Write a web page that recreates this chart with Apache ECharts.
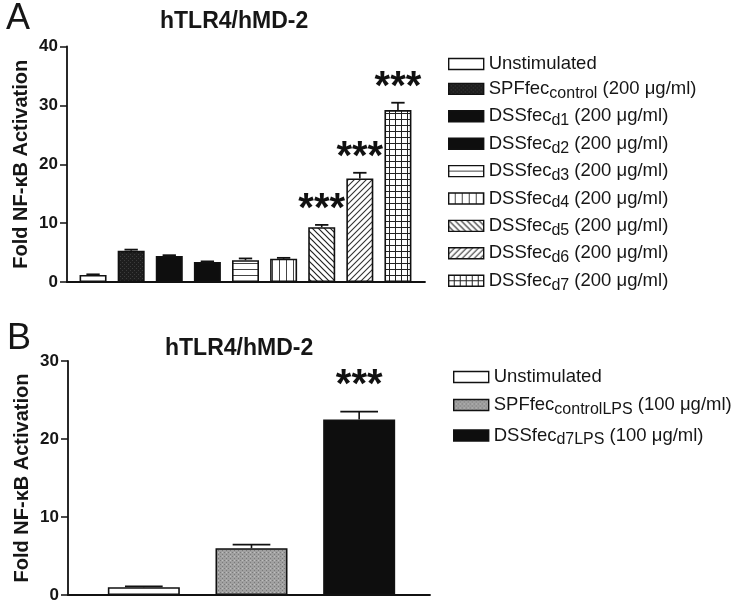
<!DOCTYPE html>
<html><head><meta charset="utf-8">
<script src="https://cdn.jsdelivr.net/npm/echarts@6/dist/echarts.min.js"></script>
<style>html,body{margin:0;padding:0;background:#fff}#c{width:741px;height:604px}</style>
</head><body><div id="c"></div>
<script>
// ---------- data ----------
const seriesNamesA = ['Unstimulated','SPFfec_control','DSSfec_d1','DSSfec_d2','DSSfec_d3','DSSfec_d4','DSSfec_d5','DSSfec_d6','DSSfec_d7'];
const legendBaseA  = ['Unstimulated','SPFfec','DSSfec','DSSfec','DSSfec','DSSfec','DSSfec','DSSfec','DSSfec'];
const legendSubA   = ['','control','d1','d2','d3','d4','d5','d6','d7'];
const legendDoseA  = ['',' (200 μg/ml)',' (200 μg/ml)',' (200 μg/ml)',' (200 μg/ml)',' (200 μg/ml)',' (200 μg/ml)',' (200 μg/ml)',' (200 μg/ml)'];
const valuesA = [1.2, 5.3, 4.4, 3.4, 3.7, 3.95, 9.3, 17.6, 29.2];
const errorsA = [0.1, 0.2, 0.15, 0.1, 0.3, 0.15, 0.4, 0.95, 1.25];
const sigA    = ['','','','','','','***','***','***'];
const yTicksA = [0, 10, 20, 30, 40];

const seriesNamesB = ['Unstimulated (B)','SPFfec_controlLPS','DSSfec_d7LPS'];
const legendBaseB  = ['Unstimulated','SPFfec','DSSfec'];
const legendSubB   = ['','controlLPS','d7LPS'];
const legendDoseB  = ['',' (100 μg/ml)',' (100 μg/ml)'];
const valuesB = [1.0, 6.0, 22.5];
const errorsB = [0.1, 0.45, 1.0];
const sigB    = ['','','***'];
const yTicksB = [0, 10, 20, 30];

const panelTitle = 'hTLR4/hMD-2';
const yName = 'Fold NF-κB Activation';

// ---------- patterns ----------
function tile(s, draw){const c=document.createElement('canvas');c.width=s;c.height=s;const g=c.getContext('2d');draw(g,s);return {image:c,repeat:'repeat'};}
const fills = {
  white: '#ffffff',
  dark: tile(4,(g,s)=>{g.fillStyle='#1e1e1e';g.fillRect(0,0,s,s);g.fillStyle='#3c3c3c';g.fillRect(0,0,1,1);g.fillRect(2,2,1,1);}),
  black: '#0e0e0e',
  hline: tile(6,(g,s)=>{g.fillStyle='#fff';g.fillRect(0,0,s,s);g.fillStyle='#444';g.fillRect(0,5,s,1);}),
  vline: tile(7,(g,s)=>{g.fillStyle='#fff';g.fillRect(0,0,s,s);g.fillStyle='#444';g.fillRect(6,0,1,s);}),
  diagDown: tile(6,(g,s)=>{g.fillStyle='#fff';g.fillRect(0,0,s,s);g.strokeStyle='#222';g.lineWidth=1.2;g.beginPath();g.moveTo(-1,-1);g.lineTo(s+1,s+1);g.moveTo(-1,s-1);g.lineTo(1,s+1);g.moveTo(s-1,-1);g.lineTo(s+1,1);g.stroke();}),
  diagUp: tile(6,(g,s)=>{g.fillStyle='#fff';g.fillRect(0,0,s,s);g.strokeStyle='#333';g.lineWidth=1.1;g.beginPath();g.moveTo(-1,s+1);g.lineTo(s+1,-1);g.moveTo(-1,1);g.lineTo(1,-1);g.moveTo(s-1,s+1);g.lineTo(s+1,s-1);g.stroke();}),
  grid: tile(6,(g,s)=>{g.fillStyle='#fff';g.fillRect(0,0,s,s);g.fillStyle='#222';g.fillRect(0,5,s,1.3);g.fillRect(5,0,1.3,s);}),
  gray: tile(4,(g,s)=>{g.fillStyle='#a0a0a0';g.fillRect(0,0,s,s);g.fillStyle='#7a7a7a';g.fillRect(0,0,1,1);g.fillRect(2,2,1,1);g.fillStyle='#bdbdbd';g.fillRect(2,0,1,1);})
};
const fillA = ['white','dark','black','black','hline','vline','diagDown','diagUp','grid'];
const fillB = ['white','gray','black'];

// ---------- layout ----------
const FONT = 'Liberation Sans, Arial, Helvetica, sans-serif';
const TXT = '#161616';
const gridsPos = [
  {left:67, top:46.5, width:358, height:235.5},   // A axes
  {left:74, top:46.5, width:343, height:235.5},   // A bars
  {left:68, top:361, width:362, height:234},      // B axes
  {left:90, top:361, width:323, height:234}       // B bars
];
const starGap = [15, 26];

function makeYAxis(gi, ticks, show){
  const o = {type:'value', gridIndex:gi, min:ticks[0], max:ticks[ticks.length-1], interval:ticks[1]-ticks[0], splitLine:{show:false}};
  if(!show){ o.show=false; return o; }
  return Object.assign(o,{
    name: yName, nameLocation:'middle', nameGap:36,
    nameTextStyle:{fontFamily:FONT,fontWeight:'bold',fontSize:20,color:TXT},
    axisLine:{show:true,lineStyle:{color:'#111',width:1.8}},
    axisTick:{show:true,length:7,lineStyle:{color:'#111',width:1.5}},
    axisLabel:{fontFamily:FONT,fontWeight:'bold',fontSize:17,color:TXT,margin:9}
  });
}
function axisX(gi){return {type:'value',gridIndex:gi,min:0,max:1,axisLine:{show:true,onZero:false,lineStyle:{color:'#111',width:1.8}},axisTick:{show:false},axisLabel:{show:false},splitLine:{show:false}};}
function barX(gi,n){return {type:'category',gridIndex:gi,data:n,show:false};}

const series = [];
function addPanel(names, vals, errs, sigs, fillKeys, xi, yi, sg){
  names.forEach((nm,i)=>{
    series.push({
      type:'bar', name:nm, xAxisIndex:xi, yAxisIndex:yi,
      barWidth: xi===1 ? 27 : 72, barGap:'-100%',
      itemStyle:{color: fills[fillKeys[i]], borderColor:'#111', borderWidth:1.6},
      data: vals.map((v,j)=> j===i ? v : '-'),
      animation:false
    });
  });
  series.push({
    type:'custom', xAxisIndex:xi, yAxisIndex:yi, animation:false, silent:true,
    data: vals.map((v,i)=>[i, v, errs[i], i]),
    renderItem:(params, api)=>{
      const i = api.value(3);
      const base = api.coord([api.value(0), api.value(1)]);
      const top = api.coord([api.value(0), api.value(1)+api.value(2)]);
      const bw = api.size([1,0])[0];
      const cw = bw*0.35;
      const children = [
        {type:'line',shape:{x1:base[0],y1:base[1],x2:top[0],y2:top[1]},style:{stroke:'#111',lineWidth:1.6}},
        {type:'line',shape:{x1:top[0]-cw/2,y1:top[1],x2:top[0]+cw/2,y2:top[1]},style:{stroke:'#111',lineWidth:1.8}}
      ];
      if(sigs[i]){
        children.push({type:'text',style:{text:sigs[i],x:top[0],y:top[1]-sg,align:'center',verticalAlign:'middle',fontFamily:FONT,fontWeight:'bold',fontSize:40,fill:'#111'}});
      }
      return {type:'group',children};
    }
  });
}
addPanel(seriesNamesA, valuesA, errorsA, sigA, fillA, 1, 1, starGap[0]);
addPanel(seriesNamesB, valuesB, errorsB, sigB, fillB, 3, 3, starGap[1]);

function legendFmt(names, base, sub, dose){
  return name => { const i = names.indexOf(name); return base[i] + (sub[i] ? '{s|'+sub[i]+'}' : '') + dose[i]; };
}
const legendText = {fontFamily:FONT,fontSize:18.5,color:TXT,lineHeight:20,
  rich:{s:{fontFamily:FONT,fontSize:16,color:TXT,lineHeight:11,padding:[9,0,0,0]}}};

const option = {
  backgroundColor:'#fff',
  animation:false,
  title:[
    {text:'A',left:1,top:-4,textStyle:{fontFamily:FONT,fontWeight:'normal',fontSize:36,color:TXT}},
    {text:panelTitle,left:155,top:5,textStyle:{fontFamily:FONT,fontWeight:'bold',fontSize:23,color:TXT}},
    {text:'B',left:2,top:316,textStyle:{fontFamily:FONT,fontWeight:'normal',fontSize:36,color:TXT}},
    {text:panelTitle,left:160,top:332,textStyle:{fontFamily:FONT,fontWeight:'bold',fontSize:23,color:TXT}}
  ],
  grid: gridsPos,
  xAxis:[axisX(0), barX(1,seriesNamesA), axisX(2), barX(3,seriesNamesB)],
  yAxis:[makeYAxis(0,yTicksA,true), makeYAxis(1,yTicksA,false), makeYAxis(2,yTicksB,true), makeYAxis(3,yTicksB,false)],
  legend:[
    {data:seriesNamesA, orient:'vertical', left:448, top:54, padding:0, icon:'rect', itemWidth:35, itemHeight:11, itemGap:2.4,
     selectedMode:false, formatter:legendFmt(seriesNamesA,legendBaseA,legendSubA,legendDoseA), textStyle:legendText,
     itemStyle:{borderColor:'#111',borderWidth:1.4}},
    {data:seriesNamesB, orient:'vertical', left:453, top:367, padding:0, icon:'rect', itemWidth:35, itemHeight:11, itemGap:5.5,
     selectedMode:false, formatter:legendFmt(seriesNamesB,legendBaseB,legendSubB,legendDoseB), textStyle:legendText,
     itemStyle:{borderColor:'#111',borderWidth:1.4}}
  ],
  series
};
const chart = echarts.init(document.getElementById('c'), null, {renderer:'canvas'});
chart.setOption(option);
</script></body></html>
